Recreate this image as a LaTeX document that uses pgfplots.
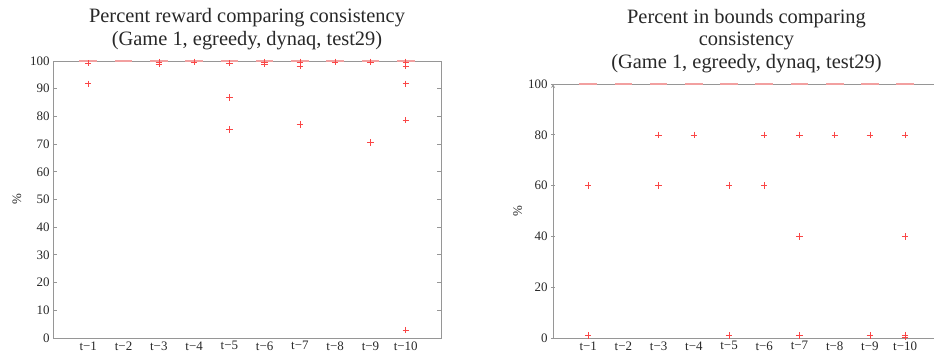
\documentclass[border=0pt]{standalone}
\usepackage{fontspec}
\setmainfont{Liberation Serif}
\usepackage{pgfplots}
\pgfplotsset{compat=1.18}
\definecolor{axgray}{RGB}{150,150,150}
\definecolor{txt}{RGB}{40,40,40}
\definecolor{med}{RGB}{242,160,160}
\definecolor{outl}{RGB}{250,70,70}
\pgfplotsset{
  mystyle/.style={
    scale only axis,
    anchor=south west,
    axis line style={axgray, line width=0.8bp},
    every tick/.style={axgray, line width=0.8bp},
    tick align=inside,
    major tick length=4bp,
    tick label style={font=\fontsize{13}{14}\selectfont, text=txt},
    /pgf/number format/assume math mode=true,
    xtick={1,...,10},
    xticklabels={t−1,t−2,t−3,t−4,t−5,t−6,t−7,t−8,t−9,t−10},
    x tick style={draw=none},
    ymin=0, ymax=100,
    title style={font=\fontsize{20.5}{22.7}\selectfont, text=txt, align=center, inner sep=0pt, anchor=south, yshift=5bp},
    ylabel={\%},
    ylabel style={font=\fontsize{13}{14}\selectfont, text=txt, at={(axis description cs:-0.093,0.5)}, anchor=center},
    clip=false,
  },
  medstyle/.style={draw=none, mark=none, forget plot,
    error bars/.cd, x dir=both, x fixed=0.25, error mark=none,
    error bar style={med, line width=1.3bp}},
  outstyle/.style={only marks, mark=+, mark size=3.2bp, mark options={draw=outl, line width=0.5bp}},
}
\begin{document}
\begin{tikzpicture}
\useasboundingbox (0bp,0bp) rectangle (934bp,358bp);
\begin{axis}[mystyle, at={(53bp,20bp)}, width=388bp, height=277bp,
  xmin=0, xmax=11, ytick={0,10,...,100},
  title={Percent reward comparing consistency\\(Game 1, egreedy, dynaq, test29)}]
\addplot[medstyle] coordinates {(1,100) (2,100) (3,100) (4,100) (5,100) (6,100) (7,100) (8,100) (9,100) (10,100)};
\addplot[outstyle] coordinates {
(1,99.2) (1,91.8)
(3,99.6) (3,99.0)
(4,99.7)
(5,99.2) (5,86.8) (5,75.3)
(6,99.6) (6,99.0)
(7,99.7) (7,98.1) (7,77.1)
(8,99.7)
(9,99.7) (9,70.6)
(10,99.7) (10,98.2) (10,91.8) (10,78.6) (10,2.9)
};
\end{axis}
\begin{axis}[mystyle, at={(553bp,20bp)}, width=381bp, height=254bp,
  xmin=0, xmax=10.82, ytick={0,20,...,100},
  axis x line=box, axis y line=left,
  title style={xshift=3bp},
  title={Percent in bounds comparing\\consistency\\(Game 1, egreedy, dynaq, test29)}]
\addplot[medstyle] coordinates {(1,100) (2,100) (3,100) (4,100) (5,100) (6,100) (7,100) (8,100) (9,100) (10,100)};
\addplot[outstyle] coordinates {
(1,60) (1,1)
(3,80) (3,60)
(4,80)
(5,60) (5,1)
(6,80) (6,60)
(7,80) (7,40) (7,1)
(8,80)
(9,80) (9,1)
(10,80) (10,40) (10,1.2) (10,0.4)
};
\end{axis}
\end{tikzpicture}
\end{document}
